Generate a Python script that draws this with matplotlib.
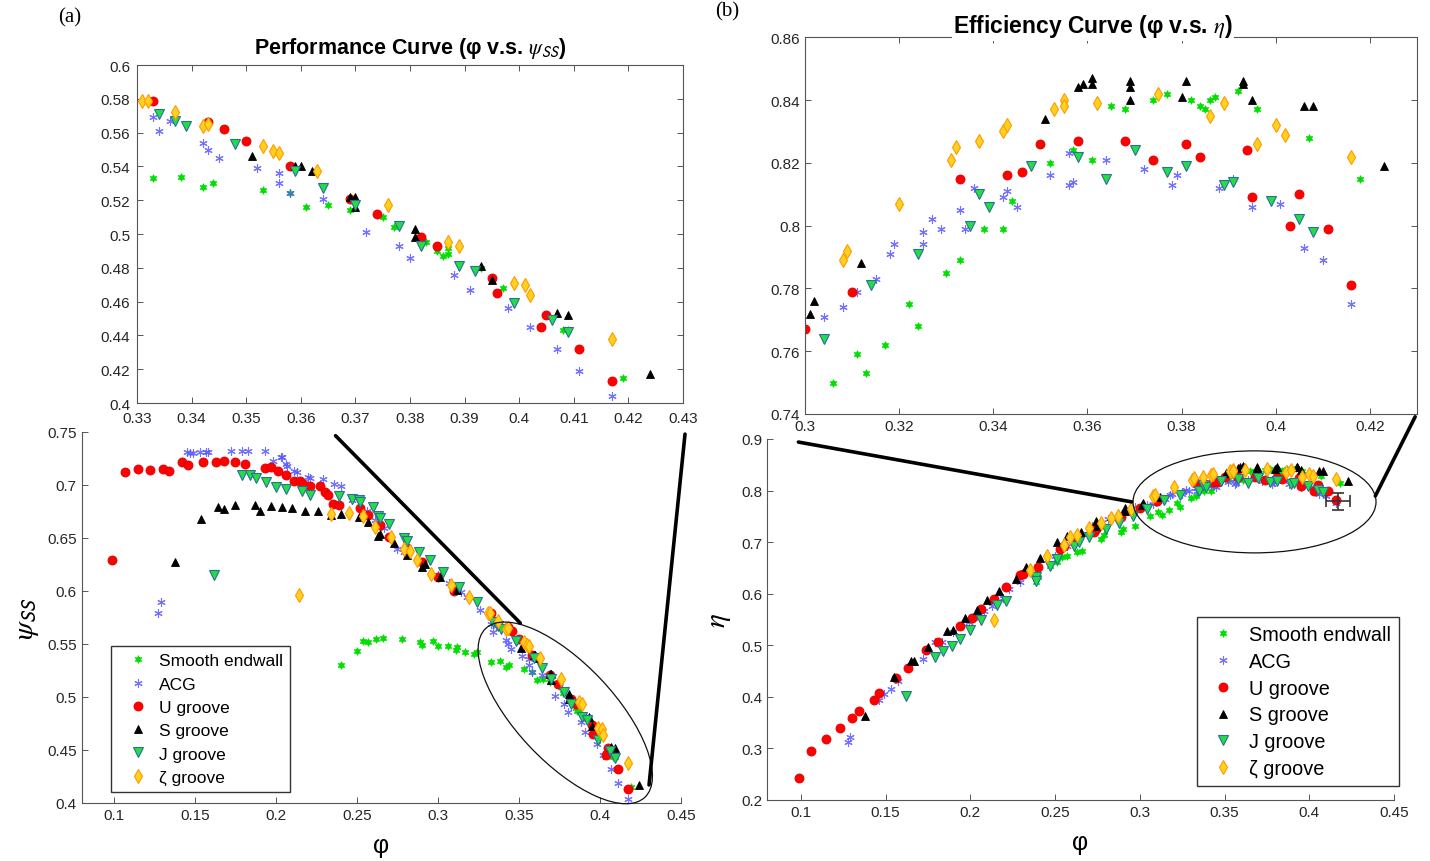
import matplotlib
matplotlib.use("Agg")
import matplotlib.pyplot as plt
from matplotlib.patches import Ellipse
from matplotlib.transforms import ScaledTranslation
from matplotlib.ticker import FormatStrFormatter, MultipleLocator

plt.rcParams["font.family"] = ["Liberation Sans", "DejaVu Sans"]
plt.rcParams["mathtext.fontset"] = "stix"

labels = ["Smooth endwall", "ACG", "U groove", "S groove", "J groove", "ζ groove"]

# ---- panel (a): phi vs psi_SS ----
phi_a_smooth = [0.240, 0.250, 0.254, 0.257, 0.262, 0.266, 0.278, 0.289, 0.290, 0.297, 0.300,
                0.306, 0.311, 0.312, 0.317, 0.322, 0.324, 0.333, 0.338, 0.342, 0.344, 0.353,
                0.358, 0.361, 0.365, 0.369, 0.375, 0.377, 0.383, 0.385, 0.386, 0.387, 0.387,
                0.393, 0.397, 0.408, 0.409, 0.419]
psi_smooth = [0.530, 0.543, 0.553, 0.552, 0.555, 0.556, 0.555, 0.552, 0.549, 0.553, 0.548,
              0.548, 0.544, 0.547, 0.542, 0.541, 0.542, 0.533, 0.534, 0.528, 0.530, 0.526,
              0.524, 0.516, 0.517, 0.514, 0.510, 0.504, 0.495, 0.490, 0.487, 0.488, 0.492,
              0.480, 0.468, 0.443, 0.443, 0.415]

phi_a_acg = [0.127, 0.129, 0.145, 0.147, 0.149, 0.153, 0.157, 0.158, 0.172, 0.179, 0.183,
             0.193, 0.198, 0.203, 0.204, 0.206, 0.207, 0.211, 0.213, 0.220, 0.221, 0.229,
             0.236, 0.240, 0.247, 0.256, 0.261, 0.267, 0.275, 0.279, 0.290, 0.300, 0.307,
             0.314, 0.318, 0.326, 0.333, 0.334, 0.336, 0.342, 0.343, 0.345, 0.352, 0.356,
             0.356, 0.358, 0.364, 0.372, 0.378, 0.380, 0.388, 0.391, 0.398, 0.402, 0.407,
             0.411, 0.417]
psi_acg = [0.579, 0.590, 0.731, 0.730, 0.730, 0.731, 0.731, 0.731, 0.732, 0.732, 0.732,
           0.732, 0.723, 0.726, 0.726, 0.720, 0.718, 0.713, 0.712, 0.708, 0.707, 0.706,
           0.701, 0.699, 0.686, 0.675, 0.667, 0.659, 0.640, 0.637, 0.627, 0.615, 0.608,
           0.599, 0.594, 0.582, 0.569, 0.561, 0.567, 0.554, 0.550, 0.545, 0.539, 0.536,
           0.530, 0.524, 0.521, 0.501, 0.493, 0.486, 0.476, 0.467, 0.456, 0.445, 0.432,
           0.419, 0.404]

phi_a_u = [0.099, 0.107, 0.115, 0.122, 0.130, 0.134, 0.142, 0.146, 0.155, 0.163, 0.168,
           0.175, 0.181, 0.193, 0.197, 0.201, 0.206, 0.211, 0.215, 0.217, 0.221, 0.227,
           0.230, 0.232, 0.235, 0.239, 0.252, 0.257, 0.264, 0.270, 0.281, 0.290, 0.300,
           0.310, 0.333, 0.343, 0.346, 0.350, 0.358, 0.369, 0.374, 0.382, 0.385, 0.395,
           0.396, 0.405, 0.404, 0.411, 0.417]
psi_u = [0.629, 0.712, 0.715, 0.714, 0.715, 0.713, 0.722, 0.719, 0.722, 0.722, 0.723,
         0.722, 0.720, 0.716, 0.717, 0.713, 0.709, 0.704, 0.704, 0.701, 0.699, 0.699,
         0.693, 0.691, 0.682, 0.681, 0.678, 0.672, 0.662, 0.651, 0.641, 0.627, 0.613,
         0.600, 0.579, 0.566, 0.562, 0.555, 0.540, 0.521, 0.512, 0.498, 0.493, 0.474,
         0.465, 0.452, 0.445, 0.432, 0.413]

phi_a_s = [0.138, 0.154, 0.164, 0.168, 0.175, 0.187, 0.190, 0.197, 0.204, 0.210, 0.218,
           0.226, 0.234, 0.240, 0.251, 0.257, 0.263, 0.264, 0.273, 0.281, 0.290, 0.292,
           0.301, 0.312, 0.351, 0.359, 0.360, 0.362, 0.369, 0.370, 0.370, 0.381, 0.381,
           0.393, 0.395, 0.407, 0.409, 0.424]
psi_s = [0.627, 0.668, 0.679, 0.677, 0.681, 0.681, 0.675, 0.680, 0.679, 0.678, 0.675,
         0.675, 0.672, 0.673, 0.670, 0.665, 0.652, 0.654, 0.645, 0.634, 0.623, 0.625,
         0.613, 0.601, 0.546, 0.540, 0.540, 0.537, 0.522, 0.522, 0.516, 0.503, 0.498,
         0.481, 0.473, 0.453, 0.452, 0.417]

phi_a_j = [0.162, 0.179, 0.184, 0.188, 0.194, 0.200, 0.206, 0.216, 0.221, 0.239, 0.247,
           0.251, 0.252, 0.260, 0.263, 0.264, 0.270, 0.279, 0.281, 0.288, 0.295, 0.303,
           0.313, 0.324, 0.334, 0.337, 0.339, 0.348, 0.359, 0.364, 0.370, 0.378, 0.382,
           0.389, 0.392, 0.399, 0.406, 0.409]
psi_j = [0.615, 0.709, 0.709, 0.707, 0.703, 0.698, 0.696, 0.694, 0.691, 0.690, 0.687,
         0.686, 0.684, 0.679, 0.671, 0.669, 0.663, 0.650, 0.647, 0.637, 0.629, 0.618,
         0.604, 0.590, 0.571, 0.567, 0.564, 0.553, 0.537, 0.527, 0.517, 0.505, 0.493,
         0.481, 0.478, 0.459, 0.449, 0.442]

phi_a_z = [0.214, 0.234, 0.245, 0.254, 0.261, 0.271, 0.279, 0.283, 0.287, 0.296, 0.308,
           0.319, 0.331, 0.332, 0.337, 0.342, 0.343, 0.353, 0.355, 0.356, 0.363, 0.376,
           0.387, 0.389, 0.399, 0.401, 0.402, 0.417]
psi_z = [0.596, 0.673, 0.674, 0.671, 0.660, 0.651, 0.640, 0.638, 0.629, 0.616, 0.606,
         0.594, 0.579, 0.579, 0.572, 0.564, 0.565, 0.552, 0.549, 0.548, 0.537, 0.517,
         0.495, 0.493, 0.471, 0.470, 0.464, 0.438]

# ---- panel (b): phi vs eta ----
phi_b_smooth = [0.239, 0.240, 0.247, 0.251, 0.254, 0.257, 0.263, 0.266, 0.277, 0.279, 0.289,
                0.290, 0.297, 0.306, 0.311, 0.313, 0.317, 0.322, 0.324, 0.330, 0.333, 0.338,
                0.342, 0.344, 0.352, 0.357, 0.361, 0.365, 0.368, 0.374, 0.377, 0.382, 0.384,
                0.385, 0.386, 0.387, 0.392, 0.396, 0.407, 0.418]
eta_smooth = [0.622, 0.632, 0.654, 0.661, 0.671, 0.674, 0.680, 0.682, 0.706, 0.713, 0.719,
              0.726, 0.732, 0.750, 0.759, 0.753, 0.762, 0.775, 0.768, 0.785, 0.789, 0.799,
              0.799, 0.808, 0.820, 0.824, 0.821, 0.838, 0.837, 0.840, 0.842, 0.840, 0.838,
              0.837, 0.840, 0.841, 0.843, 0.837, 0.828, 0.815]

phi_b_acg = [0.128, 0.129, 0.146, 0.149, 0.153, 0.157, 0.172, 0.179, 0.183, 0.190, 0.199,
             0.204, 0.208, 0.213, 0.219, 0.223, 0.229, 0.238, 0.250, 0.257, 0.264, 0.272,
             0.281, 0.291, 0.297, 0.304, 0.308, 0.311, 0.315, 0.318, 0.319, 0.325, 0.325,
             0.327, 0.329, 0.333, 0.334, 0.336, 0.342, 0.343, 0.345, 0.352, 0.356, 0.356,
             0.357, 0.364, 0.372, 0.378, 0.379, 0.388, 0.391, 0.395, 0.401, 0.406, 0.410,
             0.416]
eta_acg = [0.312, 0.322, 0.393, 0.406, 0.415, 0.431, 0.473, 0.506, 0.507, 0.525, 0.545,
           0.557, 0.567, 0.577, 0.592, 0.609, 0.623, 0.641, 0.674, 0.693, 0.709, 0.731,
           0.745, 0.758, 0.768, 0.771, 0.774, 0.779, 0.783, 0.791, 0.794, 0.798, 0.794,
           0.802, 0.799, 0.805, 0.799, 0.812, 0.809, 0.811, 0.806, 0.816, 0.813, 0.823,
           0.814, 0.821, 0.818, 0.813, 0.816, 0.812, 0.815, 0.806, 0.807, 0.793, 0.789,
           0.775]

phi_b_u = [0.099, 0.106, 0.115, 0.123, 0.130, 0.134, 0.143, 0.146, 0.156, 0.163, 0.174,
           0.181, 0.194, 0.201, 0.206, 0.214, 0.221, 0.229, 0.231, 0.240, 0.253, 0.255,
           0.263, 0.273, 0.274, 0.289, 0.300, 0.310, 0.333, 0.343, 0.346, 0.350, 0.358,
           0.368, 0.374, 0.381, 0.384, 0.394, 0.395, 0.403, 0.405, 0.411, 0.416]
eta_u = [0.243, 0.294, 0.318, 0.339, 0.359, 0.372, 0.394, 0.407, 0.437, 0.455, 0.491,
         0.507, 0.538, 0.552, 0.570, 0.590, 0.612, 0.636, 0.638, 0.652, 0.687, 0.693,
         0.706, 0.719, 0.726, 0.748, 0.767, 0.779, 0.815, 0.816, 0.817, 0.826, 0.827,
         0.827, 0.821, 0.826, 0.822, 0.824, 0.809, 0.800, 0.810, 0.799, 0.781]

phi_b_s = [0.138, 0.155, 0.165, 0.167, 0.175, 0.186, 0.190, 0.197, 0.204, 0.210, 0.217,
           0.227, 0.233, 0.241, 0.251, 0.257, 0.265, 0.274, 0.275, 0.283, 0.291, 0.291,
           0.301, 0.302, 0.312, 0.351, 0.358, 0.359, 0.361, 0.361, 0.369, 0.369, 0.369,
           0.381, 0.380, 0.393, 0.393, 0.395, 0.406, 0.408, 0.423]
eta_s = [0.362, 0.438, 0.470, 0.469, 0.497, 0.527, 0.530, 0.552, 0.569, 0.588, 0.606,
         0.629, 0.651, 0.669, 0.700, 0.711, 0.719, 0.740, 0.732, 0.750, 0.766, 0.761,
         0.772, 0.776, 0.788, 0.834, 0.844, 0.845, 0.847, 0.845, 0.846, 0.844, 0.840,
         0.846, 0.841, 0.846, 0.845, 0.840, 0.838, 0.838, 0.819]

phi_b_j = [0.162, 0.179, 0.184, 0.189, 0.194, 0.200, 0.206, 0.216, 0.221, 0.239, 0.239,
           0.247, 0.251, 0.261, 0.264, 0.270, 0.280, 0.288, 0.296, 0.304, 0.314, 0.324,
           0.335, 0.337, 0.339, 0.348, 0.358, 0.364, 0.370, 0.377, 0.381, 0.389, 0.391,
           0.399, 0.405, 0.408]
eta_j = [0.402, 0.477, 0.488, 0.499, 0.512, 0.530, 0.548, 0.578, 0.585, 0.632, 0.625,
         0.654, 0.667, 0.692, 0.700, 0.709, 0.726, 0.738, 0.751, 0.764, 0.781, 0.791,
         0.800, 0.810, 0.806, 0.819, 0.822, 0.815, 0.824, 0.817, 0.819, 0.813, 0.814,
         0.808, 0.802, 0.798]

phi_b_z = [0.214, 0.235, 0.245, 0.255, 0.259, 0.263, 0.270, 0.277, 0.283, 0.287, 0.295,
           0.308, 0.309, 0.320, 0.331, 0.332, 0.337, 0.342, 0.343, 0.353, 0.355, 0.355,
           0.362, 0.375, 0.386, 0.389, 0.396, 0.400, 0.402, 0.416]
eta_z = [0.549, 0.645, 0.674, 0.694, 0.709, 0.713, 0.727, 0.737, 0.746, 0.751, 0.764,
         0.789, 0.792, 0.807, 0.821, 0.825, 0.827, 0.830, 0.832, 0.837, 0.840, 0.838,
         0.839, 0.842, 0.835, 0.839, 0.826, 0.832, 0.829, 0.822]

# uncertainty marker (panel b)
err_phi, err_eta = 0.417, 0.779
err_dphi, err_deta = 0.007, 0.017

styles = [
    dict(marker=(6, 1, 0), color="#00e000", mfc="#00e000", mec="#00e000", ms=5.5, mew=0.6),
    dict(marker=(6, 2, 0), color="#5050ff", mfc="none", mec="#5a5aff", ms=6, mew=0.8, alpha=0.85),
    dict(marker="o", color="#ff0000", mfc="#ff0000", mec="#e00000", ms=6.5, mew=0.6),
    dict(marker="^", color="k", mfc="k", mec="k", ms=6, mew=0.6),
    dict(marker="v", color="#22dd44", mfc="#22dd44", mec="#2a6f9a", ms=6.5, mew=0.8),
    dict(marker="d", color="#ffd21f", mfc="#ffd21f", mec="#ff9a00", ms=7, mew=0.8),
]

series_a = [(phi_a_smooth, psi_smooth), (phi_a_acg, psi_acg), (phi_a_u, psi_u),
            (phi_a_s, psi_s), (phi_a_j, psi_j), (phi_a_z, psi_z)]
series_b = [(phi_b_smooth, eta_smooth), (phi_b_acg, eta_acg), (phi_b_u, eta_u),
            (phi_b_s, eta_s), (phi_b_j, eta_j), (phi_b_z, eta_z)]

TICK_FS = 11
SPINE_C = "#555555"


def style_axes(ax, box):
    for side in ("top", "right"):
        ax.spines[side].set_visible(box)
    for sp in ax.spines.values():
        sp.set_color(SPINE_C)
        sp.set_linewidth(0.8)
    ax.tick_params(direction="in", length=4, width=0.7, color=SPINE_C,
                   labelsize=TICK_FS, labelcolor="#262626",
                   top=box, right=box)
    ax.xaxis.set_major_formatter(FormatStrFormatter("%g"))
    ax.yaxis.set_major_formatter(FormatStrFormatter("%g"))


def draw(ax, series):
    handles = []
    for (x, y), st, lab in zip(series, styles, labels):
        h, = ax.plot(x, y, ls="none", label=lab, **st)
        handles.append(h)
    return handles


def ellipse(fig, ax, cx, cy, w, h, angle):
    # size in inches, centre in data units
    tr = fig.dpi_scale_trans + ScaledTranslation(cx, cy, ax.transData)
    e = Ellipse((0, 0), w, h, angle=angle, transform=tr, fill=False,
                ec="#111111", lw=0.9, clip_on=False, zorder=5)
    ax.add_artist(e)


fig = plt.figure(figsize=(14.3, 8.62), dpi=100)

ax_a = fig.add_axes([0.057, 0.0673, 0.4192, 0.4304])
ax_b = fig.add_axes([0.5364, 0.0708, 0.4384, 0.4188])
ax_ai = fig.add_axes([0.0958, 0.5313, 0.3818, 0.3921])
ax_bi = fig.add_axes([0.5629, 0.5186, 0.4280, 0.4370])

# main (a)
handles_a = draw(ax_a, series_a)
ax_a.set_xlim(0.08, 0.45)
ax_a.set_ylim(0.4, 0.75)
ax_a.xaxis.set_major_locator(MultipleLocator(0.05))
ax_a.yaxis.set_major_locator(MultipleLocator(0.05))
style_axes(ax_a, False)
ax_a.set_xlabel("φ", fontsize=18, labelpad=8)
ax_a.set_ylabel(r"$\psi_{\mathsf{SS}}$", fontsize=21, labelpad=4)
ax_a.legend(handles=handles_a, loc="lower left", bbox_to_anchor=(0.049, 0.03),
            borderaxespad=0, fontsize=12.5, fancybox=False, edgecolor="#333333",
            framealpha=1, numpoints=1, handlelength=2.3, handletextpad=0.05,
            labelspacing=0.47, borderpad=0.4)
ellipse(fig, ax_a, 0.3786, 0.485, 2.32, 0.98, -46.7)
ax_a.plot([0.2368, 0.3508], [0.7465, 0.5698], color="k", lw=2.6, clip_on=False,
          solid_capstyle="round", zorder=6)
ax_a.plot([0.4525, 0.4303], [0.748, 0.417], color="k", lw=2.6, clip_on=False,
          solid_capstyle="round", zorder=6)

# inset (a)
draw(ax_ai, series_a)
ax_ai.set_xlim(0.33, 0.43)
ax_ai.set_ylim(0.4, 0.6)
ax_ai.xaxis.set_major_locator(MultipleLocator(0.01))
ax_ai.yaxis.set_major_locator(MultipleLocator(0.02))
style_axes(ax_ai, True)
ax_ai.tick_params(axis="y", pad=5)
ax_ai.tick_params(axis="x", pad=5.5)
ax_ai.set_title("Performance Curve (φ v.s. $\\psi_{\\mathsf{SS}}$)",
                fontweight="bold", fontsize=15.5, pad=9)

# main (b)
handles_b = draw(ax_b, series_b)
ax_b.errorbar([err_phi], [err_eta], xerr=[err_dphi], yerr=[err_deta], fmt="none",
              ecolor="#333333", elinewidth=1.2, capsize=4, capthick=1.2, zorder=7)
ax_b.set_xlim(0.08, 0.45)
ax_b.set_ylim(0.2, 0.9)
ax_b.xaxis.set_major_locator(MultipleLocator(0.05))
ax_b.yaxis.set_major_locator(MultipleLocator(0.1))
style_axes(ax_b, False)
ax_b.set_xlabel("φ", fontsize=18, labelpad=8)
ax_b.set_ylabel(r"$\eta$", fontsize=21, labelpad=6)
ax_b.legend(handles=handles_b, loc="lower right", bbox_to_anchor=(1.008, 0.039),
            borderaxespad=0, fontsize=14.3, fancybox=False, edgecolor="#333333",
            framealpha=1, numpoints=1, handlelength=1.8, handletextpad=0.4,
            labelspacing=0.39, borderpad=0.4)
ellipse(fig, ax_b, 0.3677, 0.778, 2.43, 1.02, 0)
ax_b.plot([0.0985, 0.2952], [0.894, 0.778], color="k", lw=2.6, clip_on=False,
          solid_capstyle="round", zorder=6)
ax_b.plot([0.4625, 0.439], [0.943, 0.7895], color="k", lw=2.6, clip_on=False,
          solid_capstyle="round", zorder=6)

# inset (b)
draw(ax_bi, series_b)
ax_bi.set_xlim(0.3, 0.43)
ax_bi.set_ylim(0.74, 0.86)
ax_bi.xaxis.set_major_locator(MultipleLocator(0.02))
ax_bi.yaxis.set_major_locator(MultipleLocator(0.02))
style_axes(ax_bi, True)
fig.text(1093 / 1430, 1 - 27 / 862, "Efficiency Curve (φ v.s. $\\eta$)",
         ha="center", va="center", fontweight="bold", fontsize=16.5,
         bbox=dict(fc="white", ec="none", pad=1))

fig.text(70 / 1430, 1 - 18 / 862, "(a)", family="Liberation Serif", fontsize=15,
         ha="center", va="center")
fig.text(727 / 1430, 1 - 12 / 862, "(b)", family="Liberation Serif", fontsize=15,
         ha="center", va="center")

fig.savefig("out.png", dpi=100)
